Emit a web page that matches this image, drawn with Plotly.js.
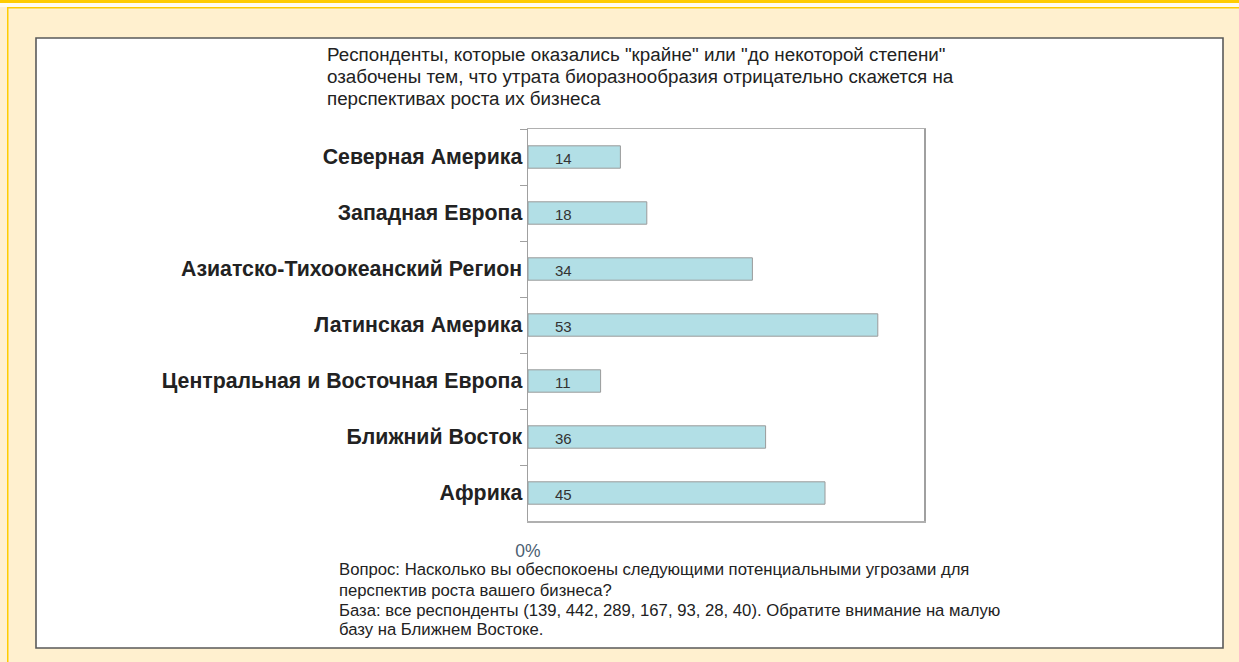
<!DOCTYPE html>
<html>
<head>
<meta charset="utf-8">
<script src="https://cdn.plot.ly/plotly-3.0.1.min.js"></script>
<style>
html,body{margin:0;padding:0;background:#FFF0CF;}
#chart{width:1239px;height:662px;}
</style>
</head>
<body>
<div id="chart"></div>
<script>
// ---- data ----
const categories = [
  "Северная Америка",
  "Западная Европа",
  "Азиатско-Тихоокеанский Регион",
  "Латинская Америка",
  "Центральная и Восточная Европа",
  "Ближний Восток",
  "Африка"
];
const values = [14, 18, 34, 53, 11, 36, 45];
const xTickVals = [0];
const xTickText = ["0%"];
const titleLines = [
  "Респонденты, которые оказались \"крайне\" или \"до некоторой степени\"",
  "озабочены тем, что утрата биоразнообразия отрицательно скажется на",
  "перспективах роста их бизнеса"
];
const footerLines = [
  "Вопрос: Насколько вы обеспокоены следующими потенциальными угрозами для",
  "перспектив роста вашего бизнеса?",
  "База: все респонденты (139, 442, 289, 167, 93, 28, 40). Обратите внимание на малую",
  "базу на Ближнем Востоке."
];

// ---- layout helpers (pixel -> paper) ----
const W = 1239, H = 662;
const M = {l: 528, r: 315, t: 129, b: 141};
const PW = W - M.l - M.r, PH = H - M.t - M.b;
const px = x => (x - M.l) / PW;
const py = y => 1 - (y - M.t) / PH;
const FONT = "Liberation Sans, Arial, sans-serif";

function rect(x0, y0, x1, y1, fill, line, lw) {
  return {type: "rect", xref: "paper", yref: "paper", layer: "below",
    x0: px(x0), x1: px(x1), y0: py(y1), y1: py(y0),
    fillcolor: fill, line: {color: line || fill, width: lw || 0}};
}

const shapes = [
  rect(0, 0, W, 3, "#FFCC00"),
  rect(0, 3, W, 7, "#FFFBEF"),
  rect(7, 7, W, 8.5, "#FFCC00"),
  rect(7, 7, 8.5, H, "#FFCC00"),
  rect(36, 38, 1223, 648, "#FFFFFF", "#5A5A5A", 1.6)
];

const annotations = [];
const titleY = [54, 76, 98];
titleLines.forEach((t, i) => annotations.push({
  xref: "paper", yref: "paper", x: px(325), y: py(titleY[i]),
  xanchor: "left", yanchor: "middle", showarrow: false, text: t,
  font: {family: FONT, size: 18.8, color: "#222"}
}));
const footY = [569, 590, 610, 629];
footerLines.forEach((t, i) => annotations.push({
  xref: "paper", yref: "paper", x: px(337), y: py(footY[i]),
  xanchor: "left", yanchor: "middle", showarrow: false, text: t,
  font: {family: FONT, size: 16.7, color: "#222"}
}));
categories.forEach((c, i) => annotations.push({
  xref: "x", yref: "y", x: 0, y: c, xanchor: "left", yanchor: "middle",
  xshift: 25, yshift: -1, showarrow: false, text: String(values[i]),
  font: {family: FONT, size: 15, color: "#333"}
}));

const trace = {
  type: "bar", orientation: "h",
  x: values, y: categories, width: 0.4,
  marker: {color: "#B2DFE6", line: {color: "#9A9A9A", width: 1}},
  hoverinfo: "none"
};

const layout = {
  width: W, height: H,
  margin: M,
  paper_bgcolor: "#FFF0CF",
  plot_bgcolor: "#FFFFFF",
  showlegend: false,
  font: {family: FONT},
  xaxis: {
    range: [0, 60], showgrid: false, zeroline: false,
    showline: true, mirror: true, linecolor: "#B0B0B0", linewidth: 1.5,
    tickvals: xTickVals, ticktext: xTickText,
    ticks: "outside", ticklen: 13, tickcolor: "rgba(0,0,0,0)",
    tickfont: {family: FONT, size: 17.5, color: "#4A5E72"}
  },
  yaxis: {
    type: "category", categoryorder: "array", categoryarray: categories,
    autorange: "reversed", showgrid: false, zeroline: false,
    showline: true, mirror: true, linecolor: "#A0A0A0", linewidth: 1.5,
    ticks: "outside", tickson: "boundaries", ticklen: 7, tickcolor: "#A0A0A0",
    tickfont: {family: FONT, size: 21.3, color: "#222", weight: "bold"}
  },
  shapes: shapes,
  annotations: annotations
};

Plotly.newPlot("chart", [trace], layout, {displayModeBar: false, staticPlot: true});
</script>
</body>
</html>
